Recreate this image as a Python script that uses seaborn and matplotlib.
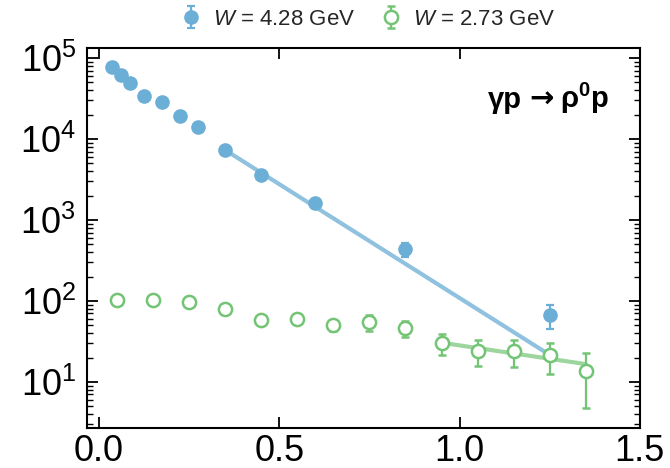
import numpy as np
import pandas as pd
import matplotlib
matplotlib.use("Agg")
import matplotlib.pyplot as plt
import seaborn as sns
from matplotlib.offsetbox import TextArea, HPacker, AnchoredOffsetbox

# ---- data ----
t_high = [0.035, 0.06, 0.085, 0.125, 0.175, 0.225, 0.275, 0.35, 0.45, 0.60, 0.85, 1.25]
y_high = [77000, 62000, 49500, 34000, 29000, 19200, 14200, 7300, 3600, 1600, 435, 67]
e_high = [1500, 1200, 1000, 700, 600, 400, 300, 150, 80, 40, 85, 22]

t_low = [0.05, 0.15, 0.25, 0.35, 0.45, 0.55, 0.65, 0.75, 0.85, 0.95, 1.05, 1.15, 1.25, 1.35]
y_low = [103, 102, 98, 79, 58, 60, 50, 55, 46, 30.5, 24.3, 24.2, 21.5, 13.7]
e_low = [5, 5, 6, 5, 6, 7, 7, 12, 10, 9, 8.5, 8.7, 9, 9]

fit_high_t = [0.35, 1.24]
fit_high_y = [7300, 23]
fit_low_t = [0.95, 1.35]
fit_low_y = [30.5, 16.6]

label_high = r"$W$ = 4.28 GeV"
label_low = r"$W$ = 2.73 GeV"
reaction_parts = ["γp", "→", r"ρ$^{\mathbf{0}}$p"]

blue = "#6baed6"
green = "#74c476"

# ---- style ----
sns.set_theme(style="ticks")
plt.rcParams["font.family"] = ["Liberation Sans", "DejaVu Sans"]
plt.rcParams["mathtext.fontset"] = "custom"
plt.rcParams["mathtext.rm"] = "Liberation Sans"
plt.rcParams["mathtext.it"] = "Liberation Sans:italic"
plt.rcParams["mathtext.bf"] = "Liberation Sans:bold"

fig = plt.figure(figsize=(6.7, 4.68), dpi=100)
ax = fig.add_axes([0.130, 0.0855, 0.825, 0.812])
ax.set_yscale("log")

df_fh = pd.DataFrame({"t": fit_high_t, "y": fit_high_y})
df_fl = pd.DataFrame({"t": fit_low_t, "y": fit_low_y})
sns.lineplot(data=df_fh, x="t", y="y", ax=ax, color=blue, lw=3, alpha=0.75, legend=False, zorder=2)
sns.lineplot(data=df_fl, x="t", y="y", ax=ax, color=green, lw=3, alpha=0.7, legend=False, zorder=2)

ax.errorbar(t_high, y_high, yerr=e_high, fmt="o", color=blue, ms=9.5, capsize=3,
            elinewidth=1.6, capthick=1.6, label=label_high, zorder=4)
ax.errorbar(t_low, y_low, yerr=e_low, fmt="o", color=green, mfc="white", mec=green,
            mew=1.8, ms=9.5, capsize=3, elinewidth=1.6, capthick=1.6, label=label_low, zorder=3)

ax.set_xlim(-0.033, 1.5)
ax.set_ylim(2.7, 1.33e5)
ax.set_xticks([0.0, 0.5, 1.0, 1.5])
ax.set_xticklabels(["0.0", "0.5", "1.0", "1.5"])
ax.set_xlabel("")
ax.set_ylabel("")
ax.xaxis.set_minor_locator(matplotlib.ticker.NullLocator())
ax.yaxis.set_major_locator(matplotlib.ticker.LogLocator(base=10, numticks=10))
ax.yaxis.set_minor_locator(matplotlib.ticker.LogLocator(base=10, subs=np.arange(2, 10), numticks=20))
ax.yaxis.set_minor_formatter(matplotlib.ticker.NullFormatter())

ax.tick_params(which="both", direction="in", top=True, right=True, colors="black")
ax.tick_params(which="major", length=8, width=1.3, labelsize=26)
ax.tick_params(which="minor", length=4, width=1.0)
ax.tick_params(axis="y", which="major", pad=8)
ax.tick_params(axis="x", which="major", pad=4)
for s in ax.spines.values():
    s.set_color("black")
    s.set_linewidth(1.5)

# reaction label: arrow from DejaVu Sans (longer arrow glyph)
fs = 21
ta1 = TextArea(reaction_parts[0], textprops=dict(fontsize=fs, fontweight="bold", color="black"))
ta2 = TextArea(reaction_parts[1], textprops=dict(fontsize=fs, fontweight="bold", color="black",
                                                 family="DejaVu Sans"))
ta3 = TextArea(reaction_parts[2], textprops=dict(fontsize=fs, fontweight="bold", color="black"))
pack = HPacker(children=[ta1, ta2, ta3], align="baseline", pad=0, sep=5)
anch = AnchoredOffsetbox(loc="center right", child=pack, frameon=False,
                         bbox_to_anchor=(0.945, 0.868), bbox_transform=ax.transAxes,
                         borderpad=0, pad=0)
ax.add_artist(anch)

ax.legend(loc="lower center", bbox_to_anchor=(0.51, 1.025), ncol=2, frameon=False,
          fontsize=16, handlelength=0.8, handletextpad=0.6, columnspacing=1.2,
          borderaxespad=0.0)

fig.savefig("out.png", dpi=100)
